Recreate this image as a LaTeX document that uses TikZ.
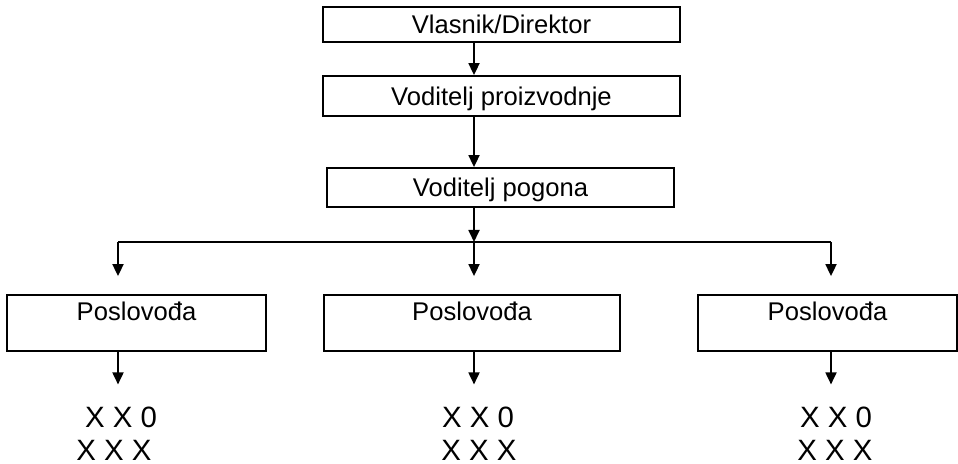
\documentclass[tikz,border=0pt]{standalone}
\usepackage{fontspec}
\setmainfont{Liberation Sans}
\usetikzlibrary{arrows.meta,calc}

\begin{document}
\begin{tikzpicture}
[x=0.5pt,y=-0.5pt,
 box/.style={draw,line width=0.9pt,rectangle,inner sep=0pt,font=\fontsize{12.8}{15}\selectfont,text height=9.2pt,text depth=0pt},
 posbox/.style={draw,line width=0.9pt,rectangle,inner xsep=0pt,inner ysep=2pt,minimum height=28pt,font=\fontsize{12.8}{15}\selectfont,text height=11pt,text depth=13pt},
 xo/.style={font=\fontsize{14.7}{17}\selectfont,text height=10.5pt,text depth=0pt},
 line/.style={line width=0.9pt},
 arr/.style={line width=0.9pt,-{Triangle[length=6pt,width=5.5pt]}}]
   \useasboundingbox (0,0) rectangle (958,464);
   % top chain
   \node[box,minimum width=178.5pt,minimum height=17.5pt] (vlasnik) at (501.5,24.5) {Vlasnik/Direktor};
   \node[box,minimum width=178.5pt,minimum height=20pt] (proizv) at (501.5,96) {Voditelj proizvodnje};
   \node[box,minimum width=173.5pt,minimum height=19.5pt] (pogon) at (500.5,187.5) {Voditelj pogona};
   % three branches
   \node[posbox,minimum width=129.5pt] (posl1) at (136.5,323) {Poslovođa};
   \node[posbox,minimum width=148pt] (posl2) at (472,323) {Poslovođa};
   \node[posbox,minimum width=129.5pt] (posl3) at (827.5,323) {Poslovođa};
   \node[xo] (xo1) at (121,417) {X X 0};
   \node[xo] (xx1) at (114,450) {X X X};
   \node[xo] (xo2) at (478,417) {X X 0};
   \node[xo] (xx2) at (479,450) {X X X};
   \node[xo] (xo3) at (836,417) {X X 0};
   \node[xo] (xx3) at (835,450) {X X X};
   \coordinate (c1) at (118,242);
   \coordinate (c2) at (474,242);
   \coordinate (c3) at (831,242);

   \draw[arr] (vlasnik.south -| c2) -- (proizv.north -| c2);
   \draw[arr] (proizv.south -| c2) -- (pogon.north -| c2);
   \draw[arr] (pogon.south -| c2) -- (c2);
   \draw[line] (c1) -- (c3);
   \foreach \i in {1,2,3} {
     \draw[arr,shorten >=9pt] (c\i) -- (posl\i.north -| c\i);
     \draw[arr,shorten >=7.5pt] (posl\i.south -| c\i) -- (xo\i.north -| c\i);
   }
\end{tikzpicture}
\end{document}
